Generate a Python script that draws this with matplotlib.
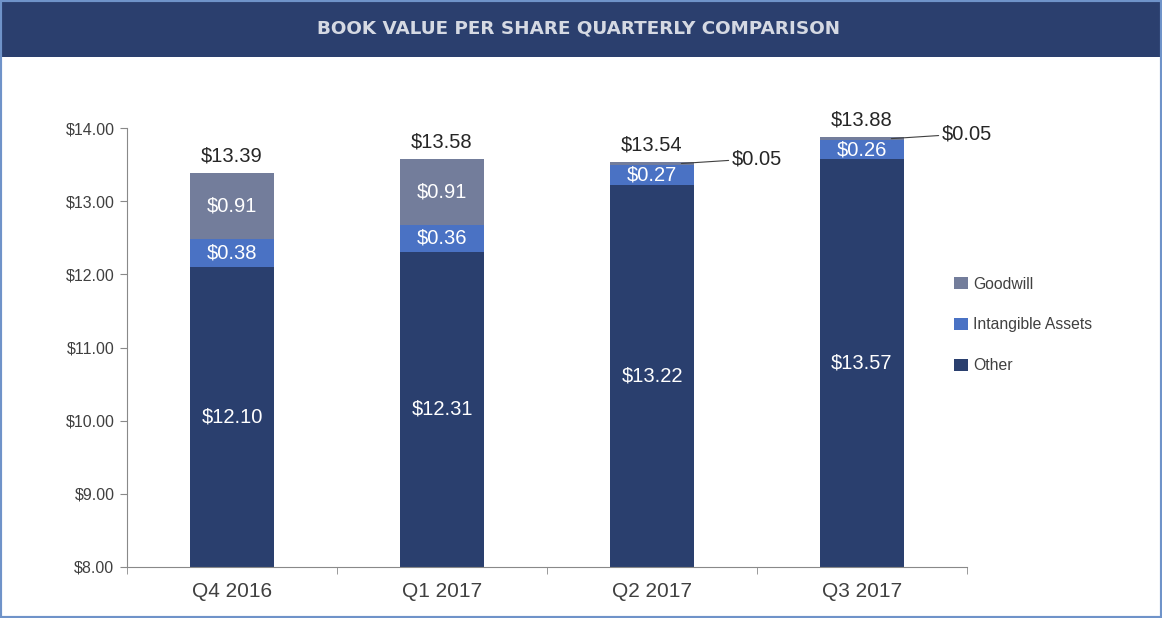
import numpy as np
import matplotlib.pyplot as plt
from matplotlib.patches import Rectangle

plt.rcParams['font.family'] = ['Liberation Sans', 'DejaVu Sans']

# Дані
quarters = ['Q4 2016', 'Q1 2017', 'Q2 2017', 'Q3 2017']
other = [12.10, 12.31, 13.22, 13.57]
intangible = [0.38, 0.36, 0.27, 0.26]
goodwill = [0.91, 0.91, 0.05, 0.05]
totals = [13.39, 13.58, 13.54, 13.88]

c_other = '#2a3f6e'
c_intang = '#4a72c4'
c_good = '#737d9b'

W, H = 1162, 618
fig = plt.figure(figsize=(W / 100, H / 100), dpi=100, facecolor='white')

# рамка і заголовок
fig.patches.append(Rectangle((0, 0), 1, 1, transform=fig.transFigure, fill=False,
                             edgecolor='#6f93c9', linewidth=3, zorder=5))
fig.patches.append(Rectangle((2 / W, 1 - 57 / H), 1 - 4 / W, 55 / H, transform=fig.transFigure,
                             facecolor='#2b3f6e', edgecolor='none', zorder=-1))
fig.text(579 / W, 1 - 29 / H, 'BOOK VALUE PER SHARE QUARTERLY COMPARISON',
         color='#d5d9e3', fontsize=13.2, fontweight='bold', family='DejaVu Sans',
         ha='center', va='center')

ax = fig.add_axes([127 / W, 1 - 567 / H, 840 / W, 439 / H])
x = np.arange(len(quarters))
base = 8.0
bw = 0.4

other_h = np.array(other) - base
ax.bar(x, other_h, bw, bottom=base, color=c_other, label='Other')
b1 = np.array(other)
ax.bar(x, intangible, bw, bottom=b1, color=c_intang, label='Intangible Assets')
b2 = b1 + np.array(intangible)
ax.bar(x, goodwill, bw, bottom=b2, color=c_good, label='Goodwill')

ax.set_xlim(-0.5, 3.5)
ax.set_ylim(8, 14)
ax.set_yticks(np.arange(8, 14.01, 1))
ax.set_yticklabels([f'${v:.2f}' for v in np.arange(8, 14.01, 1)])
ax.set_xticks(x)
ax.set_xticklabels(quarters)
ax.set_xticks(np.arange(-0.5, 3.6, 1), minor=True)
ax.tick_params(axis='x', which='major', length=0, labelsize=15, colors='#404040', pad=11)
ax.tick_params(axis='x', which='minor', length=5, color='#898989')
ax.tick_params(axis='y', length=5, color='#898989', labelsize=11.5, labelcolor='#404040', pad=4)
for s in ['top', 'right']:
    ax.spines[s].set_visible(False)
for s in ['left', 'bottom']:
    ax.spines[s].set_color('#898989')

# підписи
for i in range(len(quarters)):
    ax.text(x[i], (base + other[i]) / 2, f'${other[i]:.2f}', color='white',
            fontsize=14.5, ha='center', va='center')
    ax.text(x[i], b1[i] + intangible[i] / 2, f'${intangible[i]:.2f}', color='white',
            fontsize=14.5, ha='center', va='center')
    ax.annotate(f'${totals[i]:.2f}', (x[i], totals[i]), xytext=(0, 12),
                textcoords='offset points', ha='center', va='center',
                fontsize=14.5, color='#262626')
    if goodwill[i] > 0.3:
        ax.text(x[i], b2[i] + goodwill[i] / 2, f'${goodwill[i]:.2f}', color='white',
                fontsize=14.5, ha='center', va='center')
    else:
        ax.annotate(f'${goodwill[i]:.2f}', (x[i] + 0.14, b2[i] + goodwill[i] / 2),
                    xytext=(36, 3.5), textcoords='offset points', ha='left', va='center',
                    fontsize=14.5, color='#262626',
                    arrowprops=dict(arrowstyle='-', color='#404040', lw=0.8,
                                    shrinkA=0, shrinkB=0))

handles, labels = ax.get_legend_handles_labels()
fig.legend(handles[::-1], labels[::-1], loc='center left',
           bbox_to_anchor=(940 / W, 1 - 325 / H), frameon=False, fontsize=11.3,
           labelcolor='#404040', handlelength=0.9, handleheight=0.8,
           handletextpad=0.3, labelspacing=1.65)

fig.savefig('out.png', dpi=100)
